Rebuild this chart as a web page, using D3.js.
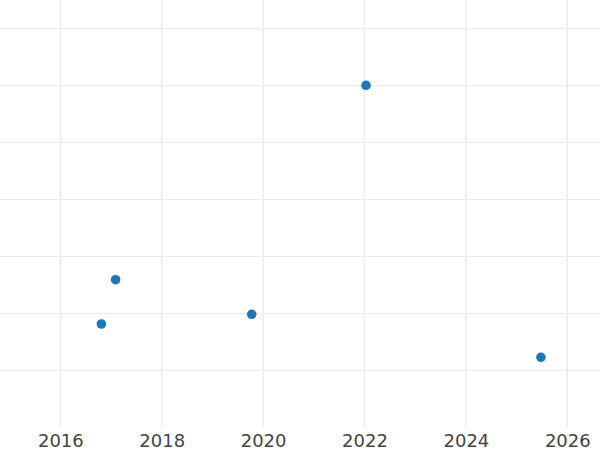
<!DOCTYPE html>
<html>
<head>
<meta charset="utf-8">
<script src="https://cdn.jsdelivr.net/npm/d3@7"></script>
<style>
html,body{margin:0;padding:0;background:#fff;}
svg{display:block;}
</style>
</head>
<body>
<svg id="chart" width="600" height="450"></svg>
<script>
const years = [2016.81, 2017.09, 2019.775, 2022.03, 2025.48];
const values = [1.807, 2.584, 1.977, 5.995, 1.223];
const xTicks = [2016, 2018, 2020, 2022, 2024, 2026];
const yTicks = [1, 2, 3, 4, 5, 6, 7];

const W = 600, H = 450;
const plotBottom = 427;
const svg = d3.select("#chart");

const x = d3.scaleLinear().domain([2014.81, 2026.645]).range([0, W]);
const y = d3.scaleLinear().domain([0, 7.4912]).range([plotBottom, 0]);

const grid = svg.append("g");
grid.selectAll("line.h").data(yTicks).join("line")
  .attr("class", "h")
  .attr("x1", 0).attr("x2", W)
  .attr("y1", d => Math.round(y(d)) + 0.5).attr("y2", d => Math.round(y(d)) + 0.5)
  .attr("stroke", "#ebebeb").attr("stroke-width", 1);
grid.selectAll("line.v").data(xTicks).join("line")
  .attr("class", "v")
  .attr("x1", d => x(d)).attr("x2", d => x(d))
  .attr("y1", 0).attr("y2", plotBottom)
  .attr("stroke", "#ebebeb").attr("stroke-width", 1.4);

const xAxis = d3.axisBottom(x).tickValues(xTicks).tickFormat(d3.format("d")).tickSize(0).tickPadding(7);
const ax = svg.append("g").attr("transform", `translate(0,${plotBottom})`).call(xAxis);
ax.select(".domain").remove();
ax.selectAll("text")
  .attr("fill", "#444")
  .style("font-family", "DejaVu Sans, sans-serif")
  .style("font-size", "18px");

svg.append("g").selectAll("circle").data(years).join("circle")
  .attr("cx", (d) => x(d))
  .attr("cy", (d, i) => y(values[i]))
  .attr("r", 4.8)
  .attr("fill", "#1f77b4");
</script>
</body>
</html>
